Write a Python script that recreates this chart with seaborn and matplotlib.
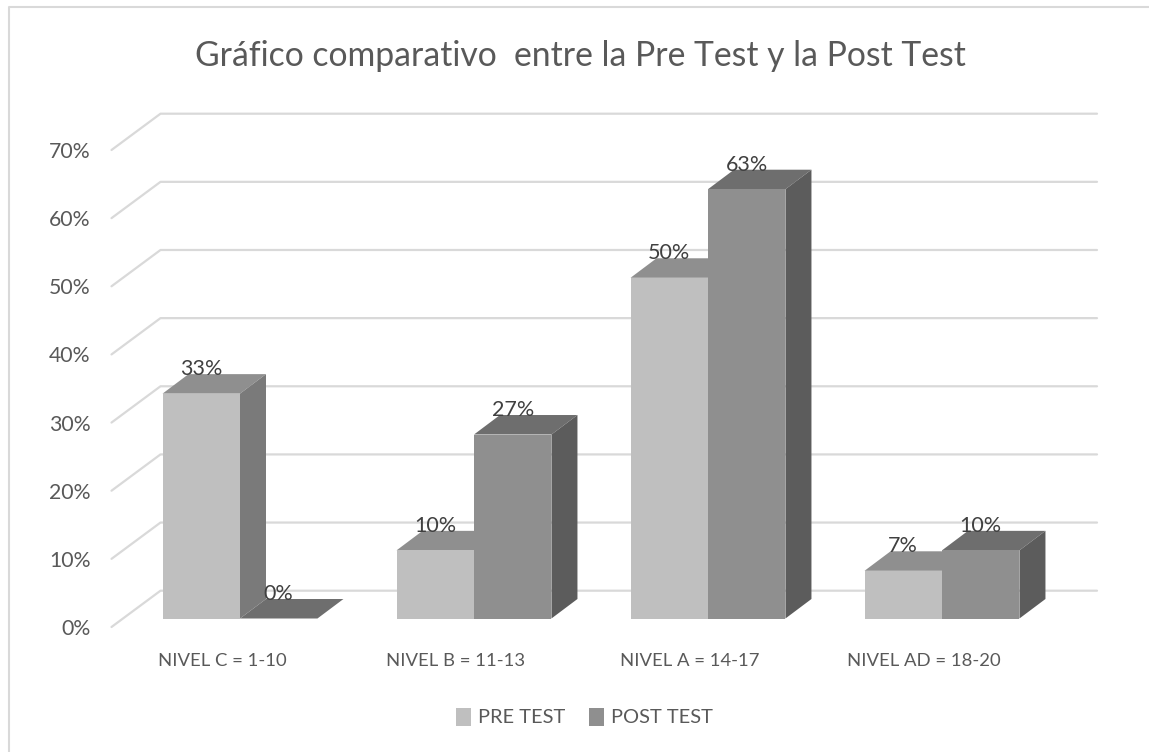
import matplotlib
matplotlib.use('Agg')
import matplotlib.pyplot as plt
from matplotlib.patches import Polygon
from matplotlib.lines import Line2D
from matplotlib.transforms import Affine2D
import seaborn as sns
import pandas as pd

niveles = ['NIVEL C = 1-10', 'NIVEL B = 11-13', 'NIVEL A = 14-17', 'NIVEL AD = 18-20']
pre_test = [33, 10, 50, 7]
post_test = [0, 27, 63, 10]
y_ticks = [0, 10, 20, 30, 40, 50, 60, 70]
tests = ['PRE TEST', 'POST TEST']
titulo = 'Gráfico comparativo  entre la Pre Test y la Post Test'

front_col = ['#bfbfbf', '#8f8f8f']
top_col = ['#8f8f8f', '#6e6e6e']
side_col = ['#7a7a7a', '#5c5c5c']
grid_col = '#d9d9d9'
text_col = '#595959'

W, H = 1149, 752
sns.set_theme(style='white')
plt.rcParams['font.family'] = ['Lato', 'DejaVu Sans']

df = pd.DataFrame({
    'nivel': niveles * 2,
    'test': [tests[0]] * 4 + [tests[1]] * 4,
    'valor': pre_test + post_test,
})

fig = plt.figure(figsize=(W / 100, H / 100), dpi=100)
# axes is the plane of the bar fronts, the fake 3d is drawn around it
left, right, base, top = 123, 1059, 618.5, 141.5
ax = fig.add_axes([left / W, 1 - base / H, (right - left) / W, (base - top) / H])

sns.barplot(data=df, x='nivel', y='valor', hue='test', hue_order=tests,
            palette=front_col, width=0.662, gap=0, saturation=1,
            linewidth=0, zorder=5, ax=ax)
ax.set_xlim(-0.5, 3.5)
ax.set_ylim(0, 70)
ax.set_xlabel('')
ax.set_ylabel('')
sns.despine(ax=ax, left=True, bottom=True, top=True, right=True)
ax.patch.set_alpha(0)

px_x = 4 / (right - left)
px_y = 70 / (base - top)

# depth of the bars
dx, dy = 26 * px_x, 19.5 * px_y
# back wall and front edge of the floor, relative to the bar plane
back_x, back_y = 37.5 * px_x, 27.8 * px_y
front_x, front_y = -11.5 * px_x, -8.5 * px_y
x_start = -0.5
x_end = -0.5 + (1097 - left) * px_x

for v in y_ticks:
    ax.add_line(Line2D([x_start + front_x, x_start + back_x, x_end],
                       [v + front_y, v + back_y, v + back_y],
                       color=grid_col, lw=1.6, zorder=1, clip_on=False))

# top and side faces from the seaborn bars
for i, cont in enumerate(ax.containers):
    for bar in cont:
        x0, w, h = bar.get_x(), bar.get_width(), bar.get_height()
        x1 = x0 + w
        ax.add_patch(Polygon([(x0, h), (x1, h), (x1 + dx, h + dy), (x0 + dx, h + dy)],
                             fc=top_col[i], ec='none', zorder=3, clip_on=False))
        ax.add_patch(Polygon([(x1, 0), (x1 + dx, dy), (x1 + dx, h + dy), (x1, h)],
                             fc=side_col[i], ec='none', zorder=3, clip_on=False))
    ax.bar_label(cont, fmt='%.0f%%', padding=10.5, fontsize=15.5,
                 color='#404040', zorder=7)

ax.set_yticks(y_ticks)
ax.set_yticklabels([f'{v}%' for v in y_ticks], fontsize=15.3, color=text_col)
ax.tick_params(axis='y', length=0, pad=23.5)
ax.tick_params(axis='x', length=0, pad=24.5, labelsize=13.3, labelcolor=text_col)
for lab in ax.get_yticklabels():
    lab.set_transform(lab.get_transform() + Affine2D().translate(0, -8.5))
for lab in ax.get_xticklabels():
    lab.set_transform(lab.get_transform() + Affine2D().translate(-18, 0))

fig.text(580 / W, 1 - 56.5 / H, titulo, ha='center', va='center', fontsize=24.3, color=text_col)

leg = ax.legend(ncol=2, loc='center', bbox_to_anchor=(584.5 / W, 1 - 717 / H),
                bbox_transform=fig.transFigure, frameon=False, fontsize=14.4,
                handlelength=0.75, handleheight=1.0, handletextpad=0.35, columnspacing=1.15)
for t in leg.get_texts():
    t.set_color(text_col)

# chart border, only left and top show in the crop
fig.add_artist(Line2D([9 / W, 9 / W, 1], [0, 1 - 7 / H, 1 - 7 / H], color=grid_col, lw=1.5))

fig.savefig('out.png', dpi=100, facecolor='white')
